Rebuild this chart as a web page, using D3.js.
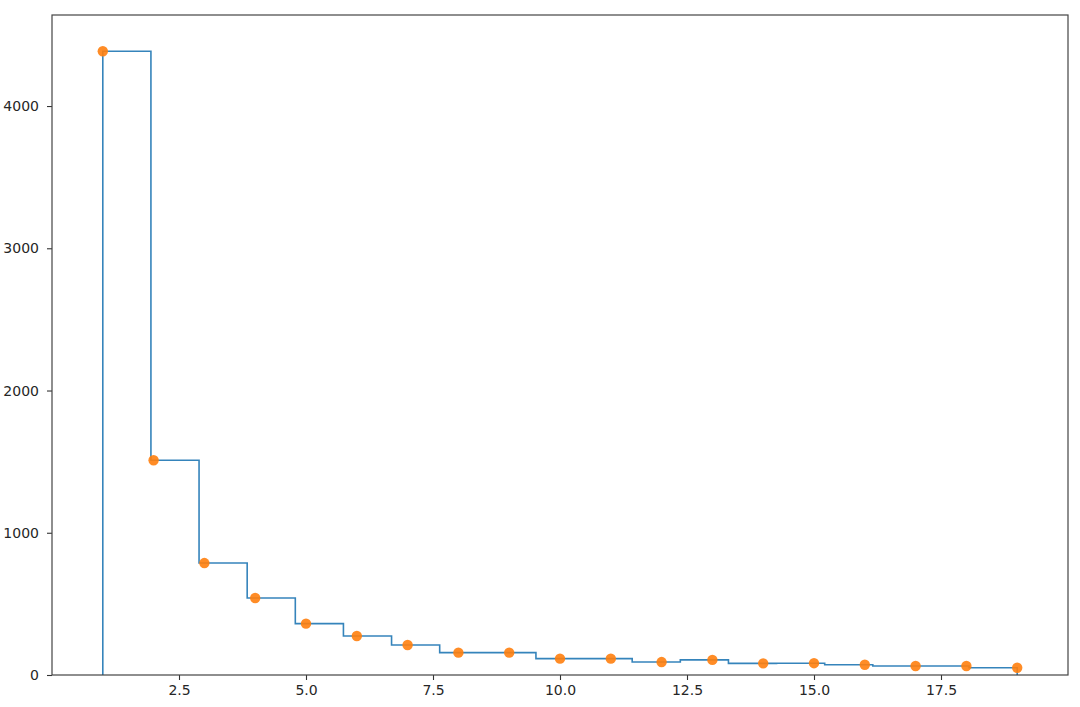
<!DOCTYPE html>
<html>
<head>
<meta charset="utf-8">
<script src="https://cdn.jsdelivr.net/npm/d3@7"></script>
<style>
  html, body { margin: 0; padding: 0; background: #fff; }
  svg { display: block; }
  .tick text { font-family: "DejaVu Sans", sans-serif; font-size: 14px; fill: #262626; }
</style>
</head>
<body>
<svg id="chart" width="1080" height="707"></svg>
<script>
// Data: x categories and counts
const xs = [1, 2, 3, 4, 5, 6, 7, 8, 9, 10, 11, 12, 13, 14, 15, 16, 17, 18, 19];
const counts = [4385, 1510, 787, 541, 361, 274, 211, 157, 157, 115, 115, 91, 106, 82, 83, 72, 63, 63, 51];
const xTicks = [2.5, 5.0, 7.5, 10.0, 12.5, 15.0, 17.5];
const yTicks = [0, 1000, 2000, 3000, 4000];
const binCount = 19;

const W = 1080, H = 707;
const margin = { left: 52, right: 12, top: 15, bottom: 32 };
const svg = d3.select("#chart");

const x = d3.scaleLinear().domain([0, 20]).range([margin.left, W - margin.right]);
const y = d3.scaleLinear().domain([0, 4640]).range([H - margin.bottom, margin.top]);

// histogram step outline (histtype='step'), bins spanning data range
const lo = d3.min(xs), hi = d3.max(xs);
const edges = d3.range(binCount + 1).map(i => lo + i * (hi - lo) / binCount);
const heights = edges.slice(0, -1).map((e, i) => {
  const r = edges[i + 1];
  return d3.sum(xs.map((v, j) => ((v >= e && (v < r || (i === binCount - 1 && v <= r))) ? counts[j] : 0)));
});
const stepPts = [[edges[0], 0]];
heights.forEach((h, i) => { stepPts.push([edges[i], h]); stepPts.push([edges[i + 1], h]); });
stepPts.push([edges[binCount], 0]);

svg.append("path")
  .attr("d", d3.line().x(d => x(d[0])).y(d => y(d[1]))(stepPts))
  .attr("fill", "none")
  .attr("stroke", "#1f77b4")
  .attr("stroke-width", 1.6)
  .attr("stroke-opacity", 0.9);

// scatter points
svg.append("g").selectAll("circle").data(xs).join("circle")
  .attr("cx", d => x(d))
  .attr("cy", (d, i) => y(counts[i]))
  .attr("r", 5.2)
  .attr("fill", "#ff7f0e")
  .attr("fill-opacity", 0.9);

// axes
const xAxis = d3.axisBottom(x).tickValues(xTicks).tickFormat(d3.format(".1f")).tickSize(5).tickPadding(5);
const yAxis = d3.axisLeft(y).tickValues(yTicks).tickFormat(d3.format("d")).tickSize(5).tickPadding(8);

const gx = svg.append("g").attr("transform", `translate(0,${H - margin.bottom})`).call(xAxis);
const gy = svg.append("g").attr("transform", `translate(${margin.left},0)`).call(yAxis);
[gx, gy].forEach(g => {
  g.select(".domain").remove();
  g.selectAll(".tick line").attr("stroke", "#333").attr("stroke-width", 1.1);
});

// frame (spines)
svg.append("rect")
  .attr("x", margin.left).attr("y", margin.top)
  .attr("width", W - margin.left - margin.right)
  .attr("height", H - margin.top - margin.bottom)
  .attr("fill", "none").attr("stroke", "#444").attr("stroke-width", 1.2);
</script>
</body>
</html>
